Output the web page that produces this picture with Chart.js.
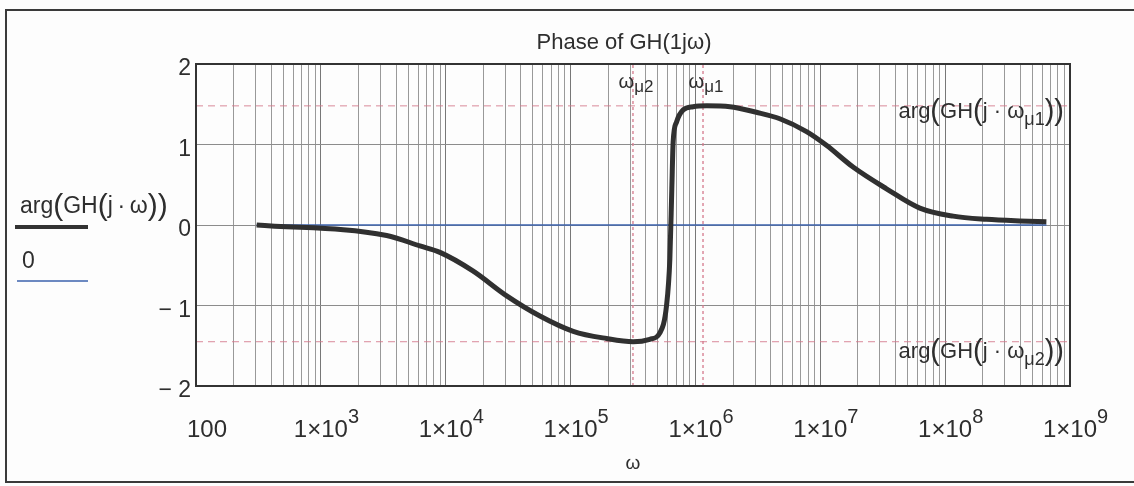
<!DOCTYPE html>
<html>
<head>
<meta charset="utf-8">
<script src="https://cdn.jsdelivr.net/npm/chart.js@4.4.1/dist/chart.umd.min.js"></script>
<style>
  html, body { margin: 0; padding: 0; background: #ffffff; }
  canvas { display: block; }
</style>
</head>
<body>
<canvas id="phaseChart" width="1134" height="486"></canvas>
<script>
// Angular frequency samples (rad/s) and the phase of GH(jω) in radians
const omega = [306, 3365, 6210, 8990, 16500, 30800, 56800, 105000, 194000, 317000,
               431000, 519000, 587000, 624000, 647000, 663000, 706000, 798000, 959000,
               1.23e6, 1.89e6, 3.08e6, 4.74e6, 7.76e6, 1.12e7, 1.83e7, 3.39e7, 6.27e7,
               1.16e8, 2.14e8, 3.95e8, 6.47e8];
const phase = [0.00, -0.13, -0.26, -0.34, -0.57, -0.88, -1.13, -1.32, -1.41, -1.45,
               -1.42, -1.34, -1.00, -0.42, 0.45, 1.03, 1.28, 1.43, 1.47,
               1.48, 1.47, 1.40, 1.32, 1.16, 0.99, 0.72, 0.45, 0.21,
               0.11, 0.07, 0.05, 0.04];

// Marker frequencies ω_μ2, ω_μ1 and the phase extremes at those frequencies
const omegaMu = [3.16e5, 1.15e6];
const phaseMu = [-1.45, 1.48];
const muNames = ['2', '1'];

// Axis ranges and tick labels
const xRange = [100, 1e9];
const yRange = [-2, 2];
const xDecades = [2, 3, 4, 5, 6, 7, 8, 9];
const yTicks = [-2, -1, 0, 1, 2];

const FONT = '"Liberation Sans", Arial, Helvetica, sans-serif';
const INK = '#2e2e2e';

// log grid: 1..9 × 10^n inside the range
const xGrid = [];
for (let e = xDecades[0]; e < xDecades[xDecades.length - 1]; e++) {
  for (let s = 1; s <= 9; s++) xGrid.push(s * Math.pow(10, e));
}
xGrid.push(xRange[1]);

function runsWidth(ctx, runs) {
  let w = 0;
  for (const r of runs) { ctx.font = r[1] + 'px ' + FONT; w += ctx.measureText(r[0]).width; }
  return w;
}
function drawRuns(ctx, runs, x, y, align) {
  const w = runsWidth(ctx, runs);
  let cx = align === 'center' ? x - w / 2 : (align === 'right' ? x - w : x);
  ctx.textAlign = 'left';
  ctx.textBaseline = 'alphabetic';
  for (const r of runs) {
    ctx.font = r[1] + 'px ' + FONT;
    ctx.fillText(r[0], cx, y + (r[2] || 0));
    cx += ctx.measureText(r[0]).width;
  }
  return w;
}
// arg(GH(j·ω…)) with tall Mathcad-style brackets
function argRuns(size, sub, dot) {
  const p = Math.round(size * 1.3), d = Math.round(size * 0.1);
  const runs = [['arg', size], ['(', p, d], ['GH', size], ['(', p, d], ['j', size],
                [dot, size], ['ω', size]];
  if (sub) runs.push(['μ' + sub, Math.round(size * 0.8), Math.round(size * 0.3)]);
  runs.push([')', p, d], [')', p, d]);
  return runs;
}

const decor = {
  id: 'decor',
  beforeDraw(chart) {
    const ctx = chart.ctx;
    ctx.save();
    ctx.fillStyle = '#fdfdfd';
    ctx.fillRect(0, 0, chart.width, chart.height);
    ctx.restore();
  },
  afterDraw(chart) {
    const ctx = chart.ctx;
    const a = chart.chartArea;
    const xs = chart.scales.x, ys = chart.scales.y;
    ctx.save();

    // outer frame
    ctx.strokeStyle = '#3a3a3a';
    ctx.lineWidth = 2;
    ctx.beginPath();
    ctx.moveTo(chart.width, 10); ctx.lineTo(6, 10); ctx.lineTo(6, 482); ctx.lineTo(chart.width, 482);
    ctx.stroke();

    // plot frame
    ctx.strokeStyle = '#333';
    ctx.lineWidth = 2;
    ctx.strokeRect(a.left, a.top, a.right - a.left, a.bottom - a.top);

    ctx.fillStyle = INK;

    // title
    drawRuns(ctx, [['Phase of GH(1jω)', 22]], 624, 49, 'center');

    // x tick labels
    xDecades.forEach(e => {
      const px = xs.getPixelForValue(Math.pow(10, e));
      ctx.font = '24px ' + FONT;
      if (e === 2) {
        const w = ctx.measureText('100').width;
        const cx = Math.max(px, a.left - 9 + w / 2);
        drawRuns(ctx, [['100', 24]], cx, 437, 'center');
      } else {
        const w = ctx.measureText('1×10').width;
        drawRuns(ctx, [['1×10', 24], [String(e), 20, -14]], px - w / 2, 437, 'left');
      }
    });

    // x axis title
    drawRuns(ctx, [['ω', 19]], (a.left + a.right) / 2, 469, 'center');

    // legend
    drawRuns(ctx, argRuns(23, '', '\u2009·\u2009'), 20, 213, 'left');
    ctx.strokeStyle = '#333';
    ctx.lineWidth = 4;
    ctx.beginPath(); ctx.moveTo(15, 227); ctx.lineTo(88, 227); ctx.stroke();
    drawRuns(ctx, [['0', 23]], 22, 268, 'left');
    ctx.strokeStyle = '#3b62ad';
    ctx.lineWidth = 1.6;
    ctx.beginPath(); ctx.moveTo(17, 281); ctx.lineTo(88, 281); ctx.stroke();

    // marker names above the dotted verticals
    omegaMu.forEach((w, i) => {
      const px = xs.getPixelForValue(w);
      drawRuns(ctx, [['ω', 20], ['μ' + muNames[i], 17, 4]], px + 3, 88, 'center');
    });

    // phase extreme annotations
    drawRuns(ctx, argRuns(22, muNames[1], ' · '), a.right - 6, ys.getPixelForValue(phaseMu[1]) + 12, 'right');
    drawRuns(ctx, argRuns(22, muNames[0], ' · '), a.right - 6, ys.getPixelForValue(phaseMu[0]) + 16, 'right');

    ctx.restore();
  }
};

const refColor = 'rgba(212,118,138,0.85)';

new Chart(document.getElementById('phaseChart'), {
  type: 'line',
  data: {
    datasets: [
      {
        label: 'arg(GH(j·ω))',
        data: omega.map((w, i) => ({ x: w, y: phase[i] })),
        borderColor: '#303030',
        borderWidth: 5,
        pointRadius: 0,
        cubicInterpolationMode: 'monotone',
        fill: false
      },
      {
        label: '0',
        data: [{ x: omega[0], y: 0 }, { x: omega[omega.length - 1], y: 0 }],
        borderColor: '#3b62ad',
        borderWidth: 1.6,
        pointRadius: 0
      },
      ...phaseMu.map(v => ({
        data: [{ x: xRange[0], y: v }, { x: xRange[1], y: v }],
        borderColor: refColor,
        borderWidth: 1,
        borderDash: [7, 5],
        pointRadius: 0
      })),
      ...omegaMu.map(w => ({
        data: [{ x: w, y: yRange[0] }, { x: w, y: yRange[1] }],
        borderColor: refColor,
        borderWidth: 1.5,
        borderDash: [3, 3],
        pointRadius: 0
      }))
    ]
  },
  options: {
    responsive: false,
    animation: false,
    devicePixelRatio: 1,
    layout: { padding: { left: 0, top: 64, right: 64, bottom: 0 } },
    plugins: { legend: { display: false }, tooltip: { enabled: false } },
    scales: {
      x: {
        type: 'logarithmic',
        min: xRange[0],
        max: xRange[1],
        afterBuildTicks: s => { s.ticks = xGrid.map(v => ({ value: v })); },
        afterFit: s => { s.height = 100; },
        ticks: { display: false, autoSkip: false },
        grid: {
          color: c => {
            const l = Math.log10(c.tick.value);
            return Math.abs(l - Math.round(l)) < 1e-9 ? '#777777' : '#999999';
          },
          lineWidth: 1,
          drawTicks: false
        },
        border: { color: '#333', width: 2 }
      },
      y: {
        min: yRange[0],
        max: yRange[1],
        afterBuildTicks: s => { s.ticks = yTicks.map(v => ({ value: v })); },
        afterFit: s => { s.width = 196; },
        ticks: {
          font: { family: FONT, size: 23 },
          color: INK,
          padding: 5,
          labelOffset: 5,
          callback: v => (v < 0 ? '\u2212 ' + Math.abs(v) : String(v))
        },
        grid: { color: '#8c8c8c', lineWidth: 1, drawTicks: false },
        border: { color: '#333', width: 2 }
      }
    }
  },
  plugins: [decor]
});
</script>
</body>
</html>
